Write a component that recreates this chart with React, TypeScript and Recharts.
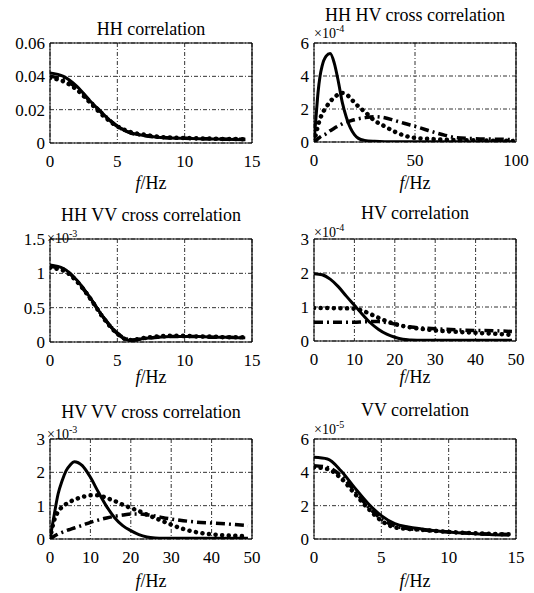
import React from 'react';
import { LineChart, Line, XAxis, YAxis, CartesianGrid, ReferenceLine } from 'recharts';

// HH correlation
const hhF = [0, 1, 2, 3, 4, 5, 6, 7, 8, 9, 10, 11, 12, 13, 14.5];
const hhSolid = [0.042, 0.04, 0.034, 0.025, 0.017, 0.01, 0.006, 0.0045, 0.0035, 0.003, 0.0028, 0.0026, 0.0024, 0.0022, 0.002];
const hhDot = [0.039, 0.037, 0.032, 0.024, 0.016, 0.01, 0.0065, 0.005, 0.0038, 0.0032, 0.003, 0.0028, 0.0026, 0.0024, 0.0023];
const hhDash = [0.04, 0.038, 0.033, 0.025, 0.017, 0.01, 0.006, 0.0045, 0.0035, 0.003, 0.0028, 0.0026, 0.0025, 0.0023, 0.0022];

// HH HV cross correlation (x1e-4)
const hhhvF = [0, 1, 2, 3, 4, 6, 8, 10, 12, 14, 16, 18, 20, 22, 25, 30, 35, 40, 45, 50, 55, 60, 65, 70, 80, 90, 99];
const hhhvSolid = [0, 1.5, 3.0, 4.0, 4.6, 5.2, 5.36, 4.8, 3.7, 2.4, 1.5, 0.85, 0.45, 0.22, 0.1, 0.04, 0.02, 0.02, 0.02, 0.02, 0.02, 0.02, 0.02, 0.02, 0.02, 0.02, 0.02];
const hhhvDot = [0, 0.5, 1.0, 1.4, 1.7, 2.1, 2.45, 2.7, 2.88, 2.97, 2.9, 2.65, 2.4, 2.15, 1.85, 1.3, 0.95, 0.62, 0.38, 0.25, 0.2, 0.17, 0.14, 0.12, 0.1, 0.08, 0.06];
const hhhvDash = [0, 0.1, 0.2, 0.3, 0.38, 0.5, 0.68, 0.83, 0.97, 1.1, 1.2, 1.28, 1.35, 1.41, 1.47, 1.53, 1.47, 1.3, 1.12, 0.95, 0.76, 0.57, 0.4, 0.27, 0.2, 0.17, 0.15];

// HH VV cross correlation (x1e-3)
const hhvvF = [0, 1, 2, 3, 4, 5, 5.5, 6, 7, 8, 9, 10, 11, 12, 13, 14.5];
const hhvvSolid = [1.12, 1.07, 0.9, 0.64, 0.35, 0.12, 0.05, 0.02, 0.05, 0.07, 0.08, 0.08, 0.08, 0.07, 0.07, 0.06];
const hhvvDot = [1.08, 1.04, 0.88, 0.63, 0.34, 0.12, 0.05, 0.03, 0.06, 0.08, 0.09, 0.09, 0.08, 0.08, 0.07, 0.07];
const hhvvDash = [1.1, 1.06, 0.89, 0.63, 0.35, 0.13, 0.06, 0.03, 0.05, 0.07, 0.08, 0.08, 0.08, 0.07, 0.07, 0.06];

// HV correlation (x1e-4)
const hvF = [0, 2, 4, 6, 8, 10, 12, 14, 16, 18, 20, 22, 24, 27, 30, 35, 40, 45, 49];
const hvSolid = [1.98, 1.95, 1.82, 1.6, 1.32, 1.05, 0.78, 0.53, 0.34, 0.2, 0.11, 0.05, 0.03, 0.02, 0.02, 0.02, 0.02, 0.02, 0.02];
const hvDot = [0.97, 0.97, 0.97, 0.96, 0.96, 0.95, 0.89, 0.79, 0.68, 0.58, 0.5, 0.44, 0.4, 0.35, 0.31, 0.27, 0.24, 0.21, 0.18];
const hvDash = [0.55, 0.55, 0.55, 0.55, 0.55, 0.55, 0.56, 0.57, 0.57, 0.54, 0.5, 0.45, 0.41, 0.38, 0.36, 0.33, 0.31, 0.3, 0.28];

// HV VV cross correlation (x1e-3)
const hvvvF = [0, 1, 2, 3, 4, 5, 6, 8, 10, 12, 14, 16, 18, 20, 22, 24, 26, 28, 30, 33, 36, 40, 45, 49];
const hvvvSolid = [0, 0.7, 1.35, 1.75, 2.05, 2.22, 2.32, 2.2, 1.85, 1.4, 0.98, 0.64, 0.4, 0.25, 0.13, 0.06, 0.03, 0.02, 0.02, 0.02, 0.02, 0.02, 0.02, 0.02];
const hvvvDot = [0, 0.55, 0.82, 0.96, 1.05, 1.12, 1.18, 1.26, 1.31, 1.31, 1.23, 1.14, 1.03, 0.93, 0.84, 0.73, 0.63, 0.53, 0.43, 0.3, 0.21, 0.14, 0.1, 0.08];
const hvvvDash = [0, 0.08, 0.15, 0.2, 0.25, 0.29, 0.33, 0.41, 0.5, 0.57, 0.63, 0.68, 0.72, 0.75, 0.75, 0.73, 0.69, 0.64, 0.6, 0.55, 0.51, 0.48, 0.44, 0.4];

// VV correlation (x1e-5)
const vvF = [0, 1, 2, 3, 4, 5, 6, 7, 8, 9, 10, 11, 12, 13, 14.5];
const vvSolid = [4.9, 4.8, 4.1, 3.1, 2.15, 1.4, 0.92, 0.72, 0.6, 0.5, 0.42, 0.36, 0.31, 0.27, 0.24];
const vvDot = [4.3, 4.2, 3.65, 2.75, 1.85, 1.1, 0.7, 0.6, 0.55, 0.48, 0.42, 0.38, 0.34, 0.31, 0.28];
const vvDash = [4.4, 4.3, 3.8, 2.9, 1.95, 1.2, 0.78, 0.62, 0.55, 0.48, 0.42, 0.37, 0.33, 0.3, 0.27];

const ticks15 = [0, 5, 10, 15];
const ticks50 = [0, 10, 20, 30, 40, 50];
const ticks100 = [0, 50, 100];

const FONT = '"Liberation Serif", "Times New Roman", serif';

const rows = (f: number[], s: number[], d: number[], dd: number[]) =>
  f.map((x, i) => ({ f: x, solid: s[i], dot: d[i], dash: dd[i] }));

const panels = [
  { title: 'HH correlation', exp: '', col: 0, plotTop: 43, plotH: 100, titleY: 29, fY: 183, expY: 0,
    data: rows(hhF, hhSolid, hhDot, hhDash), xTicks: ticks15, yTicks: [0, 0.02, 0.04, 0.06] },
  { title: 'HH HV cross correlation', exp: '-4', col: 1, plotTop: 43, plotH: 99, titleY: 15, fY: 183, expY: 24,
    data: rows(hhhvF, hhhvSolid, hhhvDot, hhhvDash), xTicks: ticks100, yTicks: [0, 2, 4, 6] },
  { title: 'HH VV cross correlation', exp: '-3', col: 0, plotTop: 239, plotH: 103, titleY: 215, fY: 377, expY: 229,
    data: rows(hhvvF, hhvvSolid, hhvvDot, hhvvDash), xTicks: ticks15, yTicks: [0, 0.5, 1, 1.5] },
  { title: 'HV correlation', exp: '-4', col: 1, plotTop: 239, plotH: 102, titleY: 213, fY: 377, expY: 223,
    data: rows(hvF, hvSolid, hvDot, hvDash), xTicks: ticks50, yTicks: [0, 1, 2, 3] },
  { title: 'HV VV cross correlation', exp: '-3', col: 0, plotTop: 439, plotH: 100, titleY: 412, fY: 581, expY: 425,
    data: rows(hvvvF, hvvvSolid, hvvvDot, hvvvDash), xTicks: ticks50, yTicks: [0, 1, 2, 3] },
  { title: 'VV correlation', exp: '-5', col: 1, plotTop: 439, plotH: 100, titleY: 410, fY: 581, expY: 420,
    data: rows(vvF, vvSolid, vvDot, vvDash), xTicks: ticks15, yTicks: [0, 2, 4, 6] },
];

const tickStyle = { fill: '#000', fontSize: 17, fontFamily: FONT };

function Panel({ p }: { p: typeof panels[number] }) {
  const left = p.col === 0 ? 0 : 264;
  const xMax = p.xTicks[p.xTicks.length - 1];
  const yMax = p.yTicks[p.yTicks.length - 1];
  const cx = left + 151;
  return (
    <>
      <div style={{ position: 'absolute', left: cx, top: p.titleY, transform: 'translate(-50%, -50%)', fontSize: 18, whiteSpace: 'nowrap' }}>
        {p.title}
      </div>
      <div style={{ position: 'absolute', left, top: p.plotTop - 10 }}>
        <LineChart width={272} height={p.plotH + 40} data={p.data} margin={{ top: 10, right: 20, left: 0, bottom: 0 }}>
          <CartesianGrid stroke="#333" strokeDasharray="4 2 1 2" />
          <XAxis dataKey="f" type="number" domain={[0, xMax]} ticks={p.xTicks} height={30}
            tick={tickStyle} tickLine={false} tickSize={0} tickMargin={12} stroke="#000" interval={0} allowDataOverflow />
          <YAxis type="number" domain={[0, yMax]} ticks={p.yTicks} width={50}
            tick={tickStyle} tickLine={false} tickSize={0} tickMargin={5} stroke="#000" interval={0}
            tickFormatter={(v: number) => String(v)} allowDataOverflow />
          <ReferenceLine y={yMax} stroke="#000" strokeWidth={1.2} />
          <ReferenceLine x={xMax} stroke="#000" strokeWidth={1.2} />
          <Line type="monotone" dataKey="dot" stroke="#000" strokeWidth={4.5} strokeDasharray="0.1 6.5" strokeLinecap="round" dot={false} isAnimationActive={false} />
          <Line type="monotone" dataKey="dash" stroke="#000" strokeWidth={3.5} strokeDasharray="9 4 2 4" dot={false} isAnimationActive={false} />
          <Line type="monotone" dataKey="solid" stroke="#000" strokeWidth={3} dot={false} isAnimationActive={false} />
        </LineChart>
      </div>
      {p.exp && (
        <div style={{ position: 'absolute', left: left + 47 + (p.col === 1 ? 3 : 0), top: p.expY, fontSize: 14, lineHeight: 1, whiteSpace: 'nowrap' }}>
          ×10<sup style={{ fontSize: 10 }}>{p.exp}</sup>
        </div>
      )}
      <div style={{ position: 'absolute', left: cx, top: p.fY, transform: 'translate(-50%, -50%)', fontSize: 18, whiteSpace: 'nowrap' }}>
        <i>f</i>/Hz
      </div>
    </>
  );
}

export default function App() {
  return (
    <div style={{ position: 'absolute', left: 0, top: 0, width: 534, height: 593, background: '#fff', fontFamily: FONT, color: '#000' }}>
      <style>{`.recharts-text { font-family: ${FONT}; }`}</style>
      {panels.map((p) => (
        <Panel key={p.title} p={p} />
      ))}
    </div>
  );
}
